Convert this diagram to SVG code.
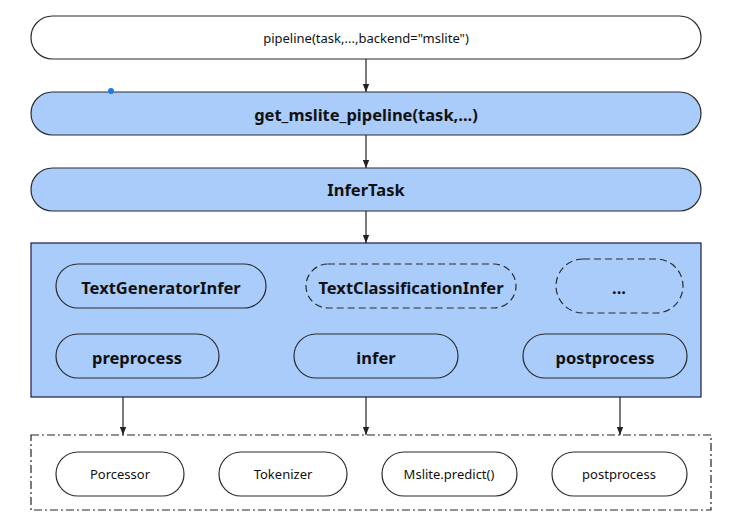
<svg xmlns="http://www.w3.org/2000/svg" width="741" height="528" viewBox="0 0 741 528">
<defs>
<style>
.p{stroke:#2a2a2a;stroke-width:1.2}
.w{fill:#fff}
.b{fill:#aaccfb}
.d{stroke-dasharray:7 4}
text{font-family:"Noto Sans","Liberation Sans",sans-serif;text-anchor:middle;dominant-baseline:central;fill:#111}
.t{font-size:16.5px;font-weight:bold}
.s{font-size:13px}
.c{stroke:#222;stroke-width:1.2;fill:none}
</style>
<marker id="a" viewBox="0 0 10 10" refX="10" refY="5" markerWidth="8" markerHeight="8" orient="auto" markerUnits="userSpaceOnUse"><path d="M0,1 L10,5 L0,9 z" fill="#222"/></marker>
</defs>
<rect width="741" height="528" fill="#fff"/>
<g id="pipeline"><rect class="p w" x="31" y="16" width="670" height="43" rx="21.5"/><text class="s" x="366" y="38">pipeline(task,...,backend="mslite")</text></g>
<g id="get_mslite"><rect class="p b" x="31" y="92" width="670" height="43" rx="21.5"/><text class="t" x="366" y="114">get_mslite_pipeline(task,...)</text></g>
<circle cx="111" cy="91" r="3" fill="#1a7ae6"/>
<g id="infertask"><rect class="p b" x="31" y="168" width="670" height="43" rx="21.5"/><text class="t" x="366" y="189">InferTask</text></g>
<g id="container"><rect x="31" y="243" width="670" height="154" fill="#aaccfb" stroke="#1a1a50" stroke-width="1.2"/></g>
<g id="textgen"><rect class="p b" x="56" y="264" width="210" height="44" rx="22"/><text class="t" x="161" y="287">TextGeneratorInfer</text></g>
<g id="textcls"><rect class="p b d" x="306" y="264" width="210" height="44" rx="22"/><text class="t" x="411" y="287">TextClassificationInfer</text></g>
<g id="more"><rect class="p b d" x="556" y="259" width="127" height="54" rx="27"/><text class="t" x="619" y="287">...</text></g>
<g id="preprocess"><rect class="p b" x="56" y="334" width="163" height="44" rx="22"/><text class="t" x="137" y="357">preprocess</text></g>
<g id="infer"><rect class="p b" x="294" y="334" width="164" height="44" rx="22"/><text class="t" x="376" y="357">infer</text></g>
<g id="postprocess"><rect class="p b" x="523" y="334" width="164" height="44" rx="22"/><text class="t" x="605" y="357">postprocess</text></g>
<g id="backend"><rect x="31" y="435" width="680" height="75" fill="none" stroke="#222" stroke-width="1.2" stroke-dasharray="8 3 2 3"/></g>
<g id="porcessor"><rect class="p w" x="56" y="452" width="128" height="44" rx="22"/><text class="s" x="120" y="474">Porcessor</text></g>
<g id="tokenizer"><rect class="p w" x="219" y="452" width="128" height="44" rx="22"/><text class="s" x="283" y="474">Tokenizer</text></g>
<g id="predict"><rect class="p w" x="382" y="452" width="135" height="44" rx="22"/><text class="s" x="449" y="474">Mslite.predict()</text></g>
<g id="post2"><rect class="p w" x="552" y="452" width="135" height="44" rx="22"/><text class="s" x="619" y="474">postprocess</text></g>
<g id="connectors">
<path class="c" d="M366,59V92" marker-end="url(#a)"/>
<path class="c" d="M366,135V168" marker-end="url(#a)"/>
<path class="c" d="M366,211V243" marker-end="url(#a)"/>
<path class="c" d="M123,397V435" marker-end="url(#a)"/>
<path class="c" d="M366,397V435" marker-end="url(#a)"/>
<path class="c" d="M620,397V435" marker-end="url(#a)"/>
</g>
</svg>
